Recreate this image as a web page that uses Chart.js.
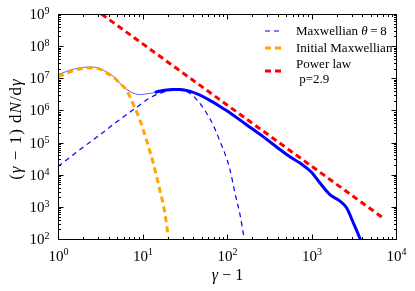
<!DOCTYPE html>
<html>
<head>
<meta charset="utf-8">
<script src="https://cdn.jsdelivr.net/npm/chart.js@4.4.0/dist/chart.umd.min.js"></script>
<style>
  html, body { margin: 0; padding: 0; background: #fff; }
  #wrap { width: 415px; height: 291px; }
</style>
</head>
<body>
<div id="wrap"><canvas id="grafico" width="415" height="291"></canvas></div>
<script>
// espectros: x = gamma - 1, y = (gamma - 1) dN/dgamma

// Maxwelliana inicial (laranja)
const xInicial = [1, 1.2, 1.44, 1.8, 2.38, 3.0, 3.57, 4.7, 5.6, 6.2, 7.0, 7.74, 9.3, 11.1, 13.4, 16, 18.4, 20.1];
const yInicial = [1.15e7, 1.35e7, 1.65e7, 1.95e7, 2.1e7, 2.0e7, 1.6e7, 1.0e7, 6.3e6, 5.0e6, 2.9e6, 1.6e6, 5.1e5, 1.23e5, 2.3e4, 3.4e3, 650, 120];

// Maxwelliana theta = 8 (azul tracejado)
const xMaxw = [1, 2, 3, 5, 8.5, 11.7, 15, 19, 24, 30, 36, 45, 57, 69, 82, 99, 108, 125, 142, 160, 170];
const yMaxw = [1.8e4, 7.3e4, 1.6e5, 4.5e5, 1.25e6, 2.3e6, 3.2e6, 3.9e6, 4.3e6, 4.1e6, 3.5e6, 2.0e6, 8.5e5, 3.4e5, 1.15e5, 3.2e4, 1.5e4, 2.5e3, 600, 100, 40];

// espectro total, parte fina (baixa energia)
const xTotalBaixo = [1, 1.2, 1.44, 1.8, 2.38, 3.0, 3.57, 4.7, 5.64, 7.07, 8.2, 9.3, 10.5, 12.2, 14, 15.3];
const yTotalBaixo = [1.3e7, 1.55e7, 1.85e7, 2.1e7, 2.24e7, 2.1e7, 1.7e7, 1.05e7, 6.2e6, 3.9e6, 3.3e6, 3.1e6, 3.2e6, 3.4e6, 3.6e6, 3.9e6];

// espectro total, parte grossa
const xTotalAlto = [14, 15.3, 17.5, 23, 28, 36, 48, 60, 80, 108, 170, 270, 400, 556, 730, 1000, 1260, 1650, 2180, 2610, 3130, 3760, 4000];
const yTotalAlto = [3.6e6, 3.9e6, 4.2e6, 4.5e6, 4.5e6, 4.0e6, 3.0e6, 2.2e6, 1.4e6, 8.5e5, 3.6e5, 1.5e5, 6.8e4, 3.6e4, 2.3e4, 1.2e4, 5.5e3, 2.4e3, 1.5e3, 920, 314, 100, 60];

// lei de potencia p = 2.9
const xPotencia = [3.27, 6790];
const yPotencia = [1e9, 483];

const xTicks = [1, 10, 100, 1000, 10000];
const xExpo = ['0', '1', '2', '3', '4'];
const yTicks = [1e2, 1e3, 1e4, 1e5, 1e6, 1e7, 1e8, 1e9];
const yExpo = ['2', '3', '4', '5', '6', '7', '8', '9'];

const SERIF = '"Liberation Serif", "DejaVu Serif", serif';

function pts(xs, ys) { return xs.map((x, i) => ({ x: x, y: ys[i] })); }

// escreve texto com trechos em fontes diferentes
function drawRich(ctx, parts, x, y, align) {
  let w = 0;
  parts.forEach(p => { ctx.font = p.font; w += ctx.measureText(p.t).width; });
  let cx = align === 'center' ? x - w / 2 : align === 'right' ? x - w : x;
  ctx.textAlign = 'left';
  ctx.textBaseline = 'alphabetic';
  parts.forEach(p => {
    ctx.font = p.font;
    ctx.fillText(p.t, cx, y - (p.dy || 0));
    cx += ctx.measureText(p.t).width;
  });
}

const decoracao = {
  id: 'decoracao',
  afterDraw(chart) {
    const { ctx, chartArea: a, scales: { x, y } } = chart;
    ctx.save();
    ctx.fillStyle = '#000';
    ctx.strokeStyle = '#000';
    ctx.lineWidth = 1;

    const L = Math.round(a.left) + 0.5, R = Math.round(a.right) + 0.5;
    const T = Math.round(a.top) + 0.5, B = Math.round(a.bottom) + 0.5;
    ctx.strokeRect(L, T, R - L, B - T);

    // marcas para dentro nos quatro lados
    ctx.beginPath();
    for (let d = 0; d < 4; d++) {
      for (let m = 1; m <= 9; m++) {
        const px = Math.round(x.getPixelForValue(m * Math.pow(10, d))) + 0.5;
        const len = m === 1 ? 5 : 2.5;
        ctx.moveTo(px, B); ctx.lineTo(px, B - len);
        ctx.moveTo(px, T); ctx.lineTo(px, T + len);
      }
    }
    for (let d = 2; d < 9; d++) {
      for (let m = 1; m <= 9; m++) {
        const py = Math.round(y.getPixelForValue(m * Math.pow(10, d))) + 0.5;
        const len = m === 1 ? 5 : 2.5;
        ctx.moveTo(L, py); ctx.lineTo(L + len, py);
        ctx.moveTo(R, py); ctx.lineTo(R - len, py);
      }
    }
    ctx.stroke();

    const fBase = '15px ' + SERIF, fExp = '10px ' + SERIF;
    xTicks.forEach((v, i) => {
      drawRich(ctx, [{ t: '10', font: fBase }, { t: xExpo[i], font: fExp, dy: 6 }],
        x.getPixelForValue(v) + 0.5, B + 21, 'center');
    });
    yTicks.forEach((v, i) => {
      drawRich(ctx, [{ t: '10', font: fBase }, { t: yExpo[i], font: fExp, dy: 5 }],
        L - 9, y.getPixelForValue(v) + 5, 'right');
    });

    // titulos dos eixos
    const fN = '16px ' + SERIF, fI = 'italic 16px ' + SERIF;
    drawRich(ctx, [{ t: 'γ', font: fI }, { t: ' − 1', font: fN }], (L + R) / 2, 280, 'center');
    ctx.save();
    ctx.translate(21, (T + B) / 2 + 2);
    ctx.rotate(-Math.PI / 2);
    ctx.letterSpacing = '1px';
    const fN2 = '17px ' + SERIF, fI2 = 'italic 17px ' + SERIF;
    drawRich(ctx, [
      { t: '(', font: fN2 }, { t: 'γ', font: fI2 }, { t: ' − 1) d', font: fN2 },
      { t: 'N', font: fI2 }, { t: '/d', font: fN2 }, { t: 'γ', font: fI2 }
    ], 0, 0, 'center');
    ctx.restore();

    // legenda
    const itens = [
      { cor: '#0000ff', w: 1.2, dash: [5, 4], yl: 31 },
      { cor: '#ffa500', w: 3, dash: [6, 4], yl: 48 },
      { cor: '#ff0000', w: 3, dash: [6, 4], yl: 71 }
    ];
    itens.forEach(it => {
      ctx.save();
      ctx.strokeStyle = it.cor; ctx.lineWidth = it.w; ctx.setLineDash(it.dash);
      ctx.beginPath(); ctx.moveTo(265, it.yl); ctx.lineTo(282, it.yl); ctx.stroke();
      ctx.restore();
    });
    const fL = '13px ' + SERIF, fLI = 'italic 13px ' + SERIF;
    drawRich(ctx, [{ t: 'Maxwellian ', font: fL }, { t: 'θ', font: fLI }, { t: '\u2009=\u20098', font: fL }], 296, 35, 'left');
    drawRich(ctx, [{ t: 'Initial Maxwellian', font: fL }], 296, 52, 'left');
    drawRich(ctx, [{ t: 'Power law', font: fL }], 296, 68, 'left');
    drawRich(ctx, [{ t: ' p=2.9', font: fL }], 296, 83, 'left');

    ctx.restore();
  }
};

new Chart(document.getElementById('grafico').getContext('2d'), {
  type: 'line',
  data: {
    datasets: [
      { label: 'Power law p=2.9', data: pts(xPotencia, yPotencia), borderColor: '#ff0000',
        borderWidth: 3, borderDash: [6, 4], order: 1 },
      { label: 'Initial Maxwellian', data: pts(xInicial, yInicial), borderColor: '#ffa500',
        borderWidth: 3, borderDash: [6, 4], cubicInterpolationMode: 'monotone', order: 2 },
      { label: 'Maxwellian θ=8', data: pts(xMaxw, yMaxw), borderColor: '#0000ff',
        borderWidth: 1.2, borderDash: [5, 4], cubicInterpolationMode: 'monotone', order: 3 },
      { label: 'total', data: pts(xTotalAlto, yTotalAlto), borderColor: '#0000ff',
        borderWidth: 3, cubicInterpolationMode: 'monotone', order: 4 },
      { label: 'total baixo', data: pts(xTotalBaixo, yTotalBaixo), borderColor: 'rgba(40,40,255,0.75)',
        borderWidth: 1, cubicInterpolationMode: 'monotone', order: 5 }
    ]
  },
  options: {
    responsive: false,
    animation: false,
    parsing: true,
    layout: { padding: { left: 58, top: 14, right: 19, bottom: 52 } },
    elements: { point: { radius: 0 } },
    datasets: { line: { clip: 0, fill: false } },
    plugins: { legend: { display: false }, tooltip: { enabled: false } },
    scales: {
      x: { type: 'logarithmic', min: 1, max: 1e4, display: false },
      y: { type: 'logarithmic', min: 1e2, max: 1e9, display: false }
    }
  },
  plugins: [decoracao]
});
</script>
</body>
</html>
